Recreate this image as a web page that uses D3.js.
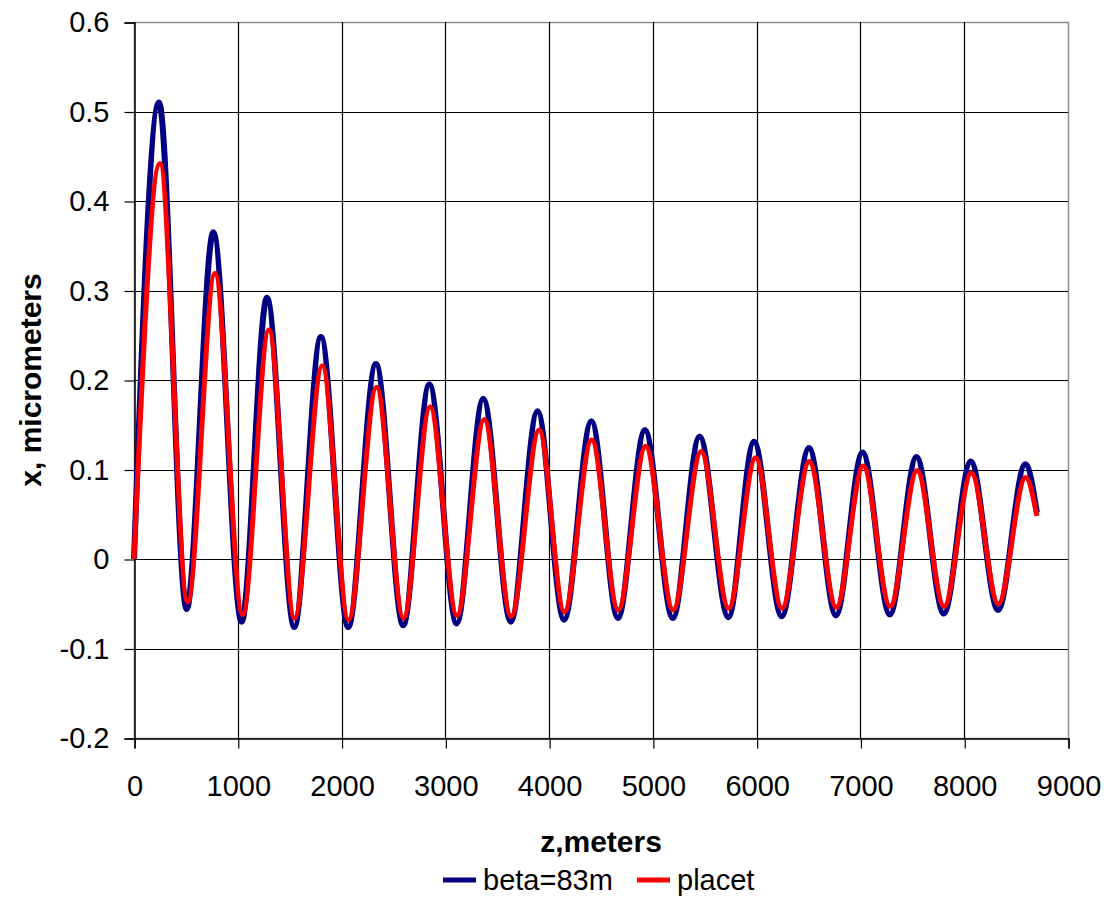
<!DOCTYPE html>
<html>
<head>
<meta charset="utf-8">
<script src="https://cdn.jsdelivr.net/npm/d3@7"></script>
<style>
    body { margin: 0; background: #fff; }
    svg { display: block; font-family: "Liberation Sans", Arial, sans-serif; }
</style>
</head>
<body>
<div id="chart"></div>
<script>
// Data: extrema of each trace (z in meters, x in micrometers)
const betaZ = [0, 241, 507, 764, 1037, 1281, 1544, 1801, 2064, 2331, 2594, 2846, 3109, 3365, 3631,
    3888, 4144, 4407, 4663, 4923, 5192, 5450, 5727, 5974, 6241, 6504, 6764, 7020, 7283, 7540,
    7803, 8063, 8326, 8589, 8700];
const betaX = [0, 0.510, -0.056, 0.365, -0.070, 0.292, -0.076, 0.248, -0.076, 0.218, -0.074, 0.195,
    -0.072, 0.179, -0.070, 0.165, -0.068, 0.154, -0.066, 0.144, -0.066, 0.137, -0.065, 0.131, -0.064,
    0.124, -0.063, 0.119, -0.062, 0.114, -0.061, 0.109, -0.057, 0.106, 0.052];

const placetZ = [0, 250, 517, 780, 1047, 1300, 1547, 1814, 2067, 2337, 2597, 2853, 3112, 3375, 3634,
    3904, 4147, 4410, 4666, 4930, 5195, 5465, 5730, 5990, 6244, 6507, 6767, 7027, 7286, 7546,
    7806, 8069, 8329, 8592, 8700];
const placetX = [0, 0.442, -0.048, 0.319, -0.062, 0.256, -0.066, 0.216, -0.068, 0.192, -0.066, 0.170,
    -0.063, 0.156, -0.064, 0.144, -0.059, 0.133, -0.057, 0.126, -0.057, 0.120, -0.055, 0.113, -0.055,
    0.109, -0.054, 0.104, -0.053, 0.099, -0.053, 0.096, -0.050, 0.091, 0.048];

const xTicks = [0, 1000, 2000, 3000, 4000, 5000, 6000, 7000, 8000, 9000];
const yTicks = [-0.2, -0.1, 0, 0.1, 0.2, 0.3, 0.4, 0.5, 0.6];

const seriesNames = ['beta=83m', 'placet'];
const seriesColors = ['#000080', '#ff0000'];

// Dimensions
const width = 1117;
const height = 921;
const plot = { left: 134, right: 1068, top: 22, bottom: 738 };

const svg = d3.select('#chart')
    .append('svg')
    .attr('width', width)
    .attr('height', height);

const x = d3.scaleLinear()
    .domain([0, 9000])
    .range([plot.left, plot.right]);

const y = d3.scaleLinear()
    .domain([-0.2, 0.6])
    .range([plot.bottom, plot.top]);

// Plot area border (grey top / right edges)
svg.append('rect')
    .attr('x', plot.left + 0.5)
    .attr('y', plot.top + 0.5)
    .attr('width', plot.right - plot.left)
    .attr('height', plot.bottom - plot.top)
    .attr('fill', 'none')
    .attr('stroke', '#8c8c8c')
    .attr('stroke-width', 1.5);

// Gridlines
svg.append('g')
    .selectAll('line')
    .data(yTicks.filter(d => d > -0.2 && d < 0.6))
    .enter()
    .append('line')
    .attr('x1', plot.left)
    .attr('x2', plot.right)
    .attr('y1', d => Math.round(y(d)) + 0.5)
    .attr('y2', d => Math.round(y(d)) + 0.5)
    .attr('stroke', '#000')
    .attr('stroke-width', 1.2);

svg.append('g')
    .selectAll('line')
    .data(xTicks.filter(d => d > 0 && d < 9000))
    .enter()
    .append('line')
    .attr('x1', d => Math.round(x(d)) + 0.5)
    .attr('x2', d => Math.round(x(d)) + 0.5)
    .attr('y1', plot.top)
    .attr('y2', plot.bottom)
    .attr('stroke', '#000')
    .attr('stroke-width', 1.2);

// Axes (plain hyphen for negatives, like the original)
const yAxis = svg.append('g')
    .attr('transform', `translate(${plot.left + 0.5},0.5)`)
    .call(d3.axisLeft(y)
        .tickValues(yTicks)
        .tickSize(10)
        .tickPadding(15)
        .tickFormat(d => Math.abs(d) < 1e-9 ? '0' : d.toFixed(1)));

const xAxis = svg.append('g')
    .attr('transform', `translate(0.5,${plot.bottom + 0.5})`)
    .call(d3.axisBottom(x)
        .tickValues(xTicks)
        .tickSize(10)
        .tickPadding(27)
        .tickFormat(d => String(d)));

[yAxis, xAxis].forEach(ax => {
    ax.select('.domain').attr('stroke', '#000').attr('stroke-width', 1.5);
    ax.selectAll('.tick line').attr('stroke', '#000').attr('stroke-width', 1.2);
    ax.selectAll('.tick text')
        .attr('fill', '#000')
        .style('font-size', '29px')
        .style('font-family', '"Liberation Sans", Arial, sans-serif');
});

// Axis titles
svg.append('text')
    .attr('x', (plot.left + plot.right) / 2)
    .attr('y', 852)
    .attr('text-anchor', 'middle')
    .style('font-size', '30px')
    .style('font-weight', 'bold')
    .text('z,meters');

svg.append('text')
    .attr('transform', `translate(41,${(plot.top + plot.bottom) / 2}) rotate(-90)`)
    .attr('text-anchor', 'middle')
    .style('font-size', '30px')
    .style('font-weight', 'bold')
    .text('x, micrometers');

// Lines
const line = d3.line()
    .x(d => x(d.z))
    .y(d => y(d.v))
    .curve(d3.curveMonotoneX);

const beta = betaZ.map((z, i) => ({ z: z, v: betaX[i] }));
const placet = placetZ.map((z, i) => ({ z: z, v: placetX[i] }));

svg.append('path')
    .datum(beta)
    .attr('fill', 'none')
    .attr('stroke', seriesColors[0])
    .attr('stroke-width', 6)
    .attr('stroke-linejoin', 'round')
    .attr('d', line);

svg.append('path')
    .datum(placet)
    .attr('fill', 'none')
    .attr('stroke', seriesColors[1])
    .attr('stroke-width', 5)
    .attr('stroke-linejoin', 'round')
    .attr('d', line);

// Legend
const legendX = [443, 637];
const legend = svg.append('g')
    .selectAll('g')
    .data(seriesNames)
    .enter()
    .append('g')
    .attr('transform', (d, i) => `translate(${legendX[i]},880)`);

legend.append('line')
    .attr('x1', 0)
    .attr('x2', 33)
    .attr('stroke', (d, i) => seriesColors[i])
    .attr('stroke-width', 5);

legend.append('text')
    .attr('x', 40)
    .attr('y', 10)
    .style('font-size', '29px')
    .text(d => d);
</script>
</body>
</html>
